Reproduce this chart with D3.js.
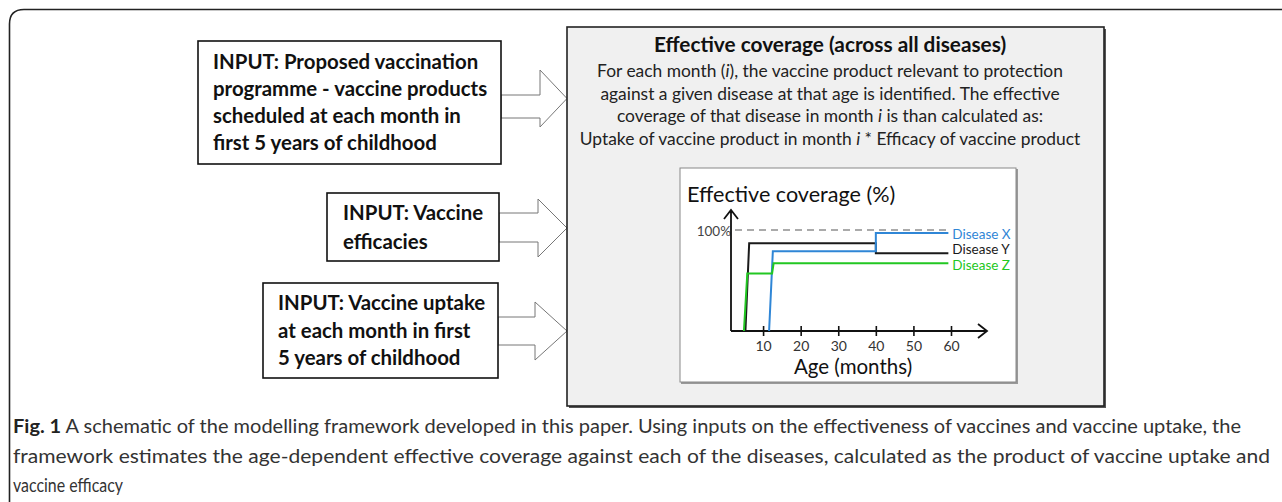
<!DOCTYPE html>
<html>
<head>
<meta charset="utf-8">
<script src="https://cdn.jsdelivr.net/npm/d3@7"></script>
<style>
  body { margin: 0; background: #fff; }
  svg { display: block; font-family: Lato, "Open Sans", sans-serif; }
</style>
</head>
<body>
<div id="chart"></div>
<script>
// tick labels of the age axis (months)
const ageTicks = [10, 20, 30, 40, 50, 60];
const diseases = ["Disease X", "Disease Y", "Disease Z"];
const diseaseColors = ["#2f86d6", "#1a1a1a", "#22c722"];

// schematic step curves, age (months) vs effective coverage (%)
const diseaseXAge = [11.6, 12.6, 40, 40, 59.3];
const diseaseXCov = [0, 79, 79, 97, 97];
const diseaseYAge = [5.3, 6.3, 40, 40, 59.3];
const diseaseYCov = [0, 87, 87, 77, 77];
const diseaseZAge = [4.9, 5.8, 12.4, 12.8, 59.3];
const diseaseZCov = [0, 57, 57, 67, 67];
const fullCoverage = 100;

const inputBoxes = [
  ["INPUT: Proposed vaccination", "programme - vaccine products", "scheduled at each month in", "first 5 years of childhood"],
  ["INPUT: Vaccine", "efficacies"],
  ["INPUT: Vaccine uptake", "at each month in first", "5 years of childhood"]
];

const W = 1282, H = 502;
const svg = d3.select("#chart").append("svg")
  .attr("width", W).attr("height", H);

// outer frame, only top and left edges, rounded corner
svg.append("path")
  .attr("d", "M9.5,502 V24 Q9.5,9.5 24,9.5 H1282")
  .attr("fill", "none").attr("stroke", "#222").attr("stroke-width", 1.6);

// input boxes on the left
const boxes = [
  { x: 198, y: 41, w: 303, h: 123, tx: 213, ty: 69, lh: 27 },
  { x: 327, y: 193, w: 172, h: 68, tx: 343, ty: 220, lh: 29 },
  { x: 263, y: 283, w: 235, h: 95, tx: 278, ty: 310, lh: 27.5 }
];
const arrows = [
  { x0: 501, y0: 95, y1: 118, hx: 540, hy0: 70, hy1: 127, tip: 567, ty: 98.5 },
  { x0: 499, y0: 213, y1: 242, hx: 538, hy0: 199, hy1: 257, tip: 567, ty: 228 },
  { x0: 498, y0: 317, y1: 345, hx: 535, hy0: 302, hy1: 360, tip: 567, ty: 331 }
];

arrows.forEach(a => {
  svg.append("path")
    .attr("d", `M${a.x0},${a.y0} H${a.hx} V${a.hy0} L${a.tip},${a.ty} L${a.hx},${a.hy1} V${a.y1} H${a.x0} Z`)
    .attr("fill", "#fff").attr("stroke", "#777").attr("stroke-width", 1);
});

boxes.forEach((b, i) => {
  svg.append("rect")
    .attr("x", b.x).attr("y", b.y).attr("width", b.w).attr("height", b.h)
    .attr("fill", "#fff").attr("stroke", "#111").attr("stroke-width", 1.6);
  svg.append("g").selectAll("text")
    .data(inputBoxes[i]).join("text")
    .attr("x", b.tx).attr("y", (d, j) => b.ty + j * b.lh)
    .attr("font-size", 20.4).attr("font-weight", "bold").attr("fill", "#111")
    .text(d => d);
});

// main box
svg.append("rect")
  .attr("x", 569).attr("y", 29).attr("width", 537).attr("height", 379)
  .attr("fill", "#555");
svg.append("rect")
  .attr("x", 567).attr("y", 27).attr("width", 537).attr("height", 379)
  .attr("fill", "#f0f0f0").attr("stroke", "#222").attr("stroke-width", 1.6);

const cx = 830;
svg.append("text")
  .attr("x", cx).attr("y", 52).attr("text-anchor", "middle")
  .attr("font-size", 20.8).attr("font-weight", "bold").attr("fill", "#111")
  .text("Effective coverage (across all diseases)");

const bodyLines = [
  [["For each month (", false], ["i", true], ["), the vaccine product relevant to protection", false]],
  [["against a given disease at that age is identified. The effective", false]],
  [["coverage of that disease in month ", false], ["i", true], [" is than calculated as:", false]],
  [["Uptake of vaccine product in month ", false], ["i", true], [" * Efficacy of vaccine product", false]]
];
bodyLines.forEach((line, j) => {
  const t = svg.append("text")
    .attr("x", cx).attr("y", 77 + j * 22.5).attr("text-anchor", "middle")
    .attr("font-size", 17.4).attr("fill", "#222");
  line.forEach(([s, it]) => t.append("tspan").attr("font-style", it ? "italic" : "normal").text(s));
});

// inner chart panel
svg.append("rect")
  .attr("x", 681).attr("y", 169).attr("width", 337).attr("height", 215)
  .attr("fill", "#999");
svg.append("rect")
  .attr("x", 680).attr("y", 168).attr("width", 336).attr("height", 214)
  .attr("fill", "#fff").attr("stroke", "#888").attr("stroke-width", 1);

svg.append("text")
  .attr("x", 687).attr("y", 202)
  .attr("font-size", 21.6).attr("fill", "#111")
  .text("Effective coverage (%)");

const x = d3.scaleLinear().domain([0, 60]).range([725.5, 951]);
const y = d3.scaleLinear().domain([0, 100]).range([331, 230]);
const axX = 731, axY = y(0);

const g = svg.append("g");

// 100% reference line
g.append("line")
  .attr("x1", axX + 4).attr("x2", 950)
  .attr("y1", y(fullCoverage)).attr("y2", y(fullCoverage))
  .attr("stroke", "#aaa").attr("stroke-width", 2).attr("stroke-dasharray", "7,5");
g.append("text")
  .attr("x", axX).attr("y", y(fullCoverage) + 6).attr("text-anchor", "end")
  .attr("font-size", 13.5).attr("fill", "#444").text("100%");

// axes with open arrowheads
g.append("path")
  .attr("d", `M${axX},${axY} V210 M${axX - 7},${219} L${axX},${210} L${axX + 7},${219}`)
  .attr("fill", "none").attr("stroke", "#111").attr("stroke-width", 1.8);
g.append("path")
  .attr("d", `M${axX},${axY} H987 M978,${axY - 7} L987,${axY} L978,${axY + 7}`)
  .attr("fill", "none").attr("stroke", "#111").attr("stroke-width", 1.8);

const xAxis = d3.axisBottom(x).tickValues(ageTicks).tickSize(5).tickPadding(5);
const xg = g.append("g").attr("transform", `translate(0,${axY})`).call(xAxis);
xg.select(".domain").remove();
xg.selectAll(".tick line").attr("y1", -5).attr("stroke", "#111").attr("stroke-width", 1.6);
xg.selectAll(".tick text").attr("font-family", "Lato, sans-serif").attr("font-size", 14).attr("fill", "#333");

g.append("text")
  .attr("x", 853).attr("y", 374).attr("text-anchor", "middle")
  .attr("font-size", 20.5).attr("fill", "#111").text("Age (months)");

// step curves
const series = [
  { name: diseases[1], age: diseaseYAge, cov: diseaseYCov, color: diseaseColors[1], dy: 1 },
  { name: diseases[0], age: diseaseXAge, cov: diseaseXCov, color: diseaseColors[0], dy: 6 },
  { name: diseases[2], age: diseaseZAge, cov: diseaseZCov, color: diseaseColors[2], dy: 7 }
];
const line = d3.line().x(d => x(d[0])).y(d => y(d[1]));
series.forEach(s => {
  const pts = s.age.map((a, i) => [a, s.cov[i]]);
  g.append("path").attr("d", line(pts))
    .attr("fill", "none").attr("stroke", s.color).attr("stroke-width", 2);
  const last = pts[pts.length - 1];
  g.append("text")
    .attr("x", x(last[0]) + 4).attr("y", y(last[1]) + s.dy)
    .attr("font-size", 13.5).attr("fill", s.color).text(s.name);
});

// caption
const cap = svg.append("g").attr("fill", "#333").attr("font-size", 18.5);
const c1 = cap.append("text").attr("x", 13).attr("y", 433)
  .attr("textLength", 1228).attr("lengthAdjust", "spacingAndGlyphs");
c1.append("tspan").attr("font-weight", "bold").attr("fill", "#222").text("Fig. 1");
c1.append("tspan").text(" A schematic of the modelling framework developed in this paper. Using inputs on the effectiveness of vaccines and vaccine uptake, the");
cap.append("text").attr("x", 13).attr("y", 463)
  .attr("textLength", 1257).attr("lengthAdjust", "spacingAndGlyphs")
  .text("framework estimates the age-dependent effective coverage against each of the diseases, calculated as the product of vaccine uptake and");
cap.append("text").attr("x", 13).attr("y", 492)
  .attr("textLength", 110).attr("lengthAdjust", "spacingAndGlyphs")
  .text("vaccine efficacy");
</script>
</body>
</html>
